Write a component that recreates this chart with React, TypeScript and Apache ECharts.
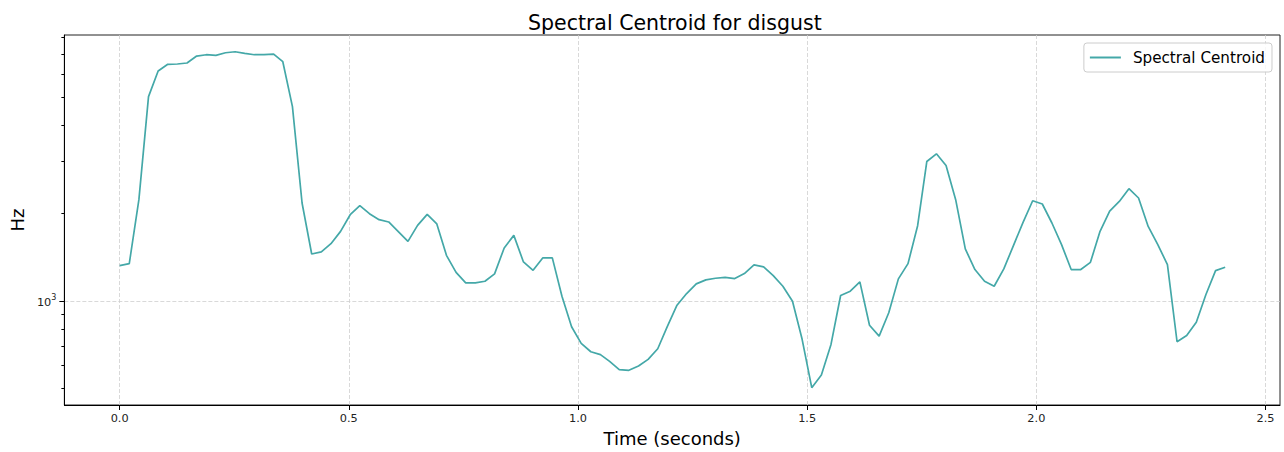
import React, { useEffect, useRef } from "react";
import * as echarts from "echarts";

// Frame times (seconds)
const times = [
  0.0, 0.021, 0.042, 0.063, 0.084, 0.105, 0.126, 0.147, 0.168, 0.189,
  0.21, 0.231, 0.252, 0.273, 0.294, 0.315, 0.336, 0.356, 0.377, 0.398,
  0.419, 0.44, 0.461, 0.482, 0.503, 0.524, 0.545, 0.566, 0.587, 0.608,
  0.629, 0.65, 0.671, 0.692, 0.713, 0.734, 0.755, 0.776, 0.797, 0.818,
  0.839, 0.86, 0.881, 0.902, 0.923, 0.944, 0.965, 0.986, 1.007, 1.028,
  1.049, 1.069, 1.09, 1.111, 1.132, 1.153, 1.174, 1.195, 1.216, 1.237,
  1.258, 1.279, 1.3, 1.321, 1.342, 1.363, 1.384, 1.405, 1.426, 1.447,
  1.468, 1.489, 1.51, 1.531, 1.552, 1.573, 1.594, 1.615, 1.636, 1.657,
  1.678, 1.699, 1.72, 1.741, 1.761, 1.782, 1.803, 1.824, 1.845, 1.866,
  1.887, 1.908, 1.929, 1.95, 1.971, 1.992, 2.013, 2.034, 2.055, 2.076,
  2.097, 2.118, 2.139, 2.16, 2.181, 2.202, 2.223, 2.244, 2.265, 2.286,
  2.307, 2.328, 2.349, 2.37, 2.391, 2.412,
];

// Spectral centroid (Hz)
const centroidHz = [
  1320, 1341, 2221, 5009, 6133, 6465, 6481, 6531, 6901, 6973,
  6939, 7083, 7139, 7050, 6973, 6973, 7011, 6598, 4629, 2164,
  1447, 1471, 1570, 1730, 1973, 2118, 1989, 1897, 1863, 1726,
  1599, 1814, 1978, 1834, 1432, 1252, 1152, 1152, 1167, 1237,
  1518, 1676, 1359, 1272, 1403, 1403, 1037, 815, 715, 669,
  654, 620, 581, 578, 598, 630, 685, 817, 966, 1059,
  1143, 1180, 1195, 1204, 1192, 1240, 1328, 1307, 1220, 1122,
  997, 738, 504, 557, 709, 1043, 1079, 1161, 825, 757,
  910, 1189, 1341, 1809, 3002, 3190, 2909, 2221, 1506, 1280,
  1167, 1122, 1286, 1546, 1857, 2203, 2147, 1848, 1558, 1280,
  1280, 1355, 1730, 2031, 2191, 2422, 2251, 1799, 1558, 1331,
  724, 761, 845, 1051, 1269, 1303,
];

const xTickValues = [0, 0.5, 1, 1.5, 2, 2.5];
const yMajorTicks = [1000];
const yMinorTicks = [500, 600, 700, 800, 900, 2000, 3000, 4000, 5000, 6000, 7000, 8000];

const X_MIN = -0.1206;
const X_MAX = 2.5316;
const Y_MIN = 439.5;
const Y_MAX = 8147;

const FONT = "DejaVu Sans";
const LINE_COLOR = "#44a8a8";

export default function App() {
  const ref = useRef<HTMLDivElement>(null);

  useEffect(() => {
    if (!ref.current) return;
    const chart = echarts.init(ref.current, null, { renderer: "svg" });
    chart.setOption({
      animation: false,
      backgroundColor: "#ffffff",
      textStyle: { fontFamily: FONT },
      title: {
        text: "Spectral Centroid for disgust",
        left: 523,
        top: 7,
        textStyle: { fontFamily: FONT, fontSize: 20.5, fontWeight: "normal", color: "#000" },
      },
      legend: {
        show: true,
        right: 12,
        top: 43,
        padding: [7, 7, 7, 6],
        icon: "rect",
        itemWidth: 31,
        itemHeight: 2,
        backgroundColor: "rgba(255,255,255,0.8)",
        borderColor: "#cccccc",
        borderWidth: 1,
        borderRadius: 3,
        textStyle: { fontFamily: FONT, fontSize: 15.2, color: "#000", padding: [0, 0, 0, 7], lineHeight: 15 },
        data: ["Spectral Centroid"],
      },
      grid: {
        left: 62,
        right: 4,
        top: 35,
        bottom: 46,
        show: true,
        borderColor: "#222",
        borderWidth: 1,
        backgroundColor: "transparent",
      },
      xAxis: {
        type: "value",
        min: X_MIN,
        max: X_MAX,
        name: "Time (seconds)",
        nameLocation: "middle",
        nameGap: 24,
        nameTextStyle: { fontFamily: FONT, fontSize: 18, color: "#000", verticalAlign: "top" },
        axisLine: { show: true, onZero: false, lineStyle: { color: "#000", width: 1 } },
        axisTick: { show: true, length: 5, inside: false, customValues: xTickValues, lineStyle: { color: "#000" } },
        axisLabel: {
          customValues: xTickValues,
          margin: 8,
          fontFamily: FONT,
          fontSize: 11.3,
          color: "#222",
          formatter: (v: number) => v.toFixed(1),
        },
        splitLine: { show: true, lineStyle: { color: "#cfcfcf", type: [4, 2], width: 0.8 } },
      },
      yAxis: [
        {
          type: "log",
          logBase: 10,
          min: Y_MIN,
          max: Y_MAX,
          name: "Hz",
          nameLocation: "middle",
          nameGap: 38,
          nameTextStyle: { fontFamily: FONT, fontSize: 18, color: "#000" },
          axisLine: { show: true, onZero: false, lineStyle: { color: "#000", width: 1 } },
          axisTick: { show: true, length: 5, inside: false, customValues: yMajorTicks, lineStyle: { color: "#000" } },
          axisLabel: {
            customValues: yMajorTicks,
            margin: 8,
            fontFamily: FONT,
            color: "#222",
            formatter: (v: number) => (Math.abs(v - 1000) < 1e-6 ? "{b|10}{s|3}" : ""),
            rich: {
              b: { fontFamily: FONT, fontSize: 11.3, color: "#222", lineHeight: 14, verticalAlign: "bottom" },
              s: { fontFamily: FONT, fontSize: 8, color: "#222", lineHeight: 14, verticalAlign: "top", padding: [0, 0, 6, 0] },
            },
          },
          splitLine: { show: true, lineStyle: { color: "#cfcfcf", type: [4, 2], width: 0.8 } },
        },
        {
          type: "log",
          logBase: 10,
          min: Y_MIN,
          max: Y_MAX,
          position: "left",
          axisLine: { show: false, onZero: false },
          axisTick: { show: true, length: 3, inside: false, customValues: yMinorTicks, lineStyle: { color: "#000" } },
          axisLabel: { show: false, customValues: yMinorTicks },
          splitLine: { show: false },
        },
      ],
      series: [
        {
          type: "line",
          name: "Spectral Centroid",
          xAxisIndex: 0,
          yAxisIndex: 0,
          data: times.map((t, i) => [t, centroidHz[i]]),
          symbol: "none",
          showSymbol: false,
          lineStyle: { color: LINE_COLOR, width: 1.7 },
          itemStyle: { color: LINE_COLOR },
        },
      ],
    });
    return () => chart.dispose();
  }, []);

  return (
    <div
      ref={ref}
      style={{ position: "absolute", left: 0, top: 0, width: 1284, height: 452 }}
    />
  );
}
